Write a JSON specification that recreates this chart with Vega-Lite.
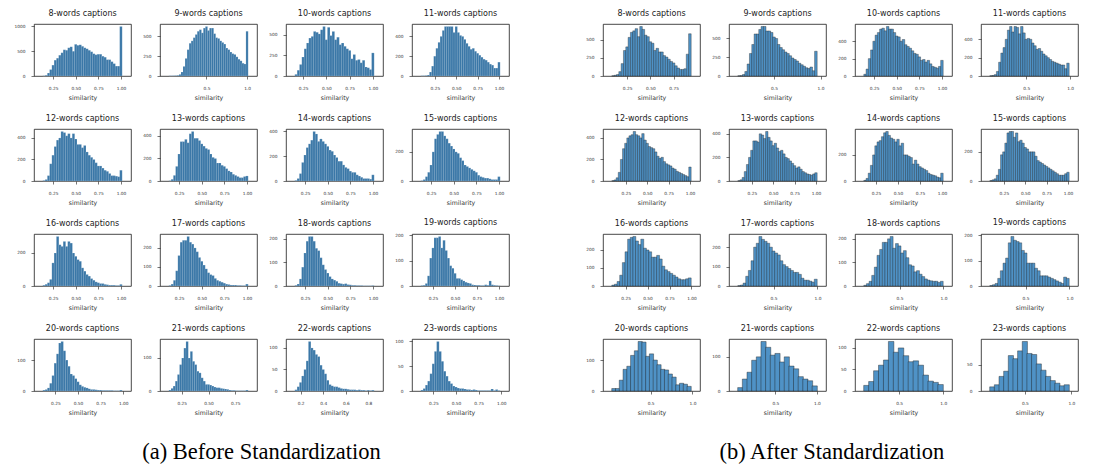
{
"$schema": "https://vega.github.io/schema/vega-lite/v6.json",
"background": "white",
"padding": {"left": 13, "top": 9, "right": 5, "bottom": 3},
"datasets": {
"a8": [{"x":0.15,"n":5},{"x":0.175,"n":15},{"x":0.2,"n":60},{"x":0.225,"n":130},{"x":0.25,"n":220},{"x":0.275,"n":320},{"x":0.3,"n":360},{"x":0.325,"n":420},{"x":0.35,"n":470},{"x":0.375,"n":530},{"x":0.4,"n":520},{"x":0.425,"n":570},{"x":0.45,"n":590},{"x":0.475,"n":500},{"x":0.5,"n":640},{"x":0.525,"n":620},{"x":0.55,"n":630},{"x":0.575,"n":600},{"x":0.6,"n":570},{"x":0.625,"n":550},{"x":0.65,"n":520},{"x":0.675,"n":490},{"x":0.7,"n":450},{"x":0.725,"n":430},{"x":0.75,"n":440},{"x":0.775,"n":440},{"x":0.8,"n":400},{"x":0.825,"n":380},{"x":0.85,"n":330},{"x":0.875,"n":330},{"x":0.9,"n":290},{"x":0.925,"n":250},{"x":0.95,"n":200},{"x":0.975,"n":200},{"x":1.0,"n":1000}],
"a9": [{"x":0.05,"n":3},{"x":0.075,"n":3},{"x":0.1,"n":4},{"x":0.125,"n":5},{"x":0.15,"n":8},{"x":0.175,"n":20},{"x":0.2,"n":50},{"x":0.225,"n":120},{"x":0.25,"n":220},{"x":0.275,"n":330},{"x":0.3,"n":410},{"x":0.325,"n":440},{"x":0.35,"n":480},{"x":0.375,"n":520},{"x":0.4,"n":560},{"x":0.425,"n":580},{"x":0.45,"n":540},{"x":0.475,"n":600},{"x":0.5,"n":620},{"x":0.525,"n":570},{"x":0.55,"n":600},{"x":0.575,"n":600},{"x":0.6,"n":530},{"x":0.625,"n":480},{"x":0.65,"n":470},{"x":0.675,"n":440},{"x":0.7,"n":420},{"x":0.725,"n":400},{"x":0.75,"n":350},{"x":0.775,"n":330},{"x":0.8,"n":300},{"x":0.825,"n":280},{"x":0.85,"n":270},{"x":0.875,"n":240},{"x":0.9,"n":210},{"x":0.925,"n":190},{"x":0.95,"n":160},{"x":0.975,"n":150},{"x":1.0,"n":560}],
"a10": [{"x":0.175,"n":20},{"x":0.2,"n":70},{"x":0.225,"n":140},{"x":0.25,"n":230},{"x":0.275,"n":330},{"x":0.3,"n":400},{"x":0.325,"n":460},{"x":0.35,"n":480},{"x":0.375,"n":540},{"x":0.4,"n":530},{"x":0.425,"n":510},{"x":0.45,"n":560},{"x":0.475,"n":600},{"x":0.5,"n":440},{"x":0.525,"n":590},{"x":0.55,"n":490},{"x":0.575,"n":540},{"x":0.6,"n":440},{"x":0.625,"n":470},{"x":0.65,"n":380},{"x":0.675,"n":400},{"x":0.7,"n":360},{"x":0.725,"n":330},{"x":0.75,"n":310},{"x":0.775,"n":210},{"x":0.8,"n":260},{"x":0.825,"n":190},{"x":0.85,"n":200},{"x":0.875,"n":160},{"x":0.9,"n":190},{"x":0.925,"n":110},{"x":0.95,"n":100},{"x":0.975,"n":80},{"x":1.0,"n":280}],
"a11": [{"x":0.1,"n":3},{"x":0.125,"n":3},{"x":0.15,"n":5},{"x":0.175,"n":10},{"x":0.2,"n":40},{"x":0.225,"n":100},{"x":0.25,"n":200},{"x":0.275,"n":280},{"x":0.3,"n":340},{"x":0.325,"n":400},{"x":0.35,"n":460},{"x":0.375,"n":500},{"x":0.4,"n":500},{"x":0.425,"n":500},{"x":0.45,"n":500},{"x":0.475,"n":440},{"x":0.5,"n":500},{"x":0.525,"n":440},{"x":0.55,"n":410},{"x":0.575,"n":400},{"x":0.6,"n":370},{"x":0.625,"n":330},{"x":0.65,"n":300},{"x":0.675,"n":270},{"x":0.7,"n":280},{"x":0.725,"n":250},{"x":0.75,"n":230},{"x":0.775,"n":210},{"x":0.8,"n":190},{"x":0.825,"n":170},{"x":0.85,"n":160},{"x":0.875,"n":140},{"x":0.9,"n":120},{"x":0.925,"n":110},{"x":0.95,"n":80},{"x":0.975,"n":80},{"x":1.0,"n":140}],
"a12": [{"x":0.15,"n":5},{"x":0.175,"n":15},{"x":0.2,"n":50},{"x":0.225,"n":160},{"x":0.25,"n":240},{"x":0.275,"n":320},{"x":0.3,"n":380},{"x":0.325,"n":400},{"x":0.35,"n":460},{"x":0.375,"n":450},{"x":0.4,"n":420},{"x":0.425,"n":440},{"x":0.45,"n":400},{"x":0.475,"n":440},{"x":0.5,"n":390},{"x":0.525,"n":340},{"x":0.55,"n":340},{"x":0.575,"n":310},{"x":0.6,"n":330},{"x":0.625,"n":270},{"x":0.65,"n":240},{"x":0.675,"n":220},{"x":0.7,"n":200},{"x":0.725,"n":170},{"x":0.75,"n":140},{"x":0.775,"n":140},{"x":0.8,"n":120},{"x":0.825,"n":100},{"x":0.85,"n":90},{"x":0.875,"n":70},{"x":0.9,"n":50},{"x":0.925,"n":50},{"x":0.95,"n":45},{"x":0.975,"n":40},{"x":1.0,"n":100}],
"a13": [{"x":0.15,"n":3},{"x":0.175,"n":15},{"x":0.2,"n":50},{"x":0.225,"n":130},{"x":0.25,"n":240},{"x":0.275,"n":350},{"x":0.3,"n":350},{"x":0.325,"n":370},{"x":0.35,"n":340},{"x":0.375,"n":420},{"x":0.4,"n":440},{"x":0.425,"n":380},{"x":0.45,"n":380},{"x":0.475,"n":360},{"x":0.5,"n":330},{"x":0.525,"n":310},{"x":0.55,"n":290},{"x":0.575,"n":280},{"x":0.6,"n":240},{"x":0.625,"n":210},{"x":0.65,"n":200},{"x":0.675,"n":160},{"x":0.7,"n":160},{"x":0.725,"n":140},{"x":0.75,"n":130},{"x":0.775,"n":110},{"x":0.8,"n":90},{"x":0.825,"n":80},{"x":0.85,"n":60},{"x":0.875,"n":50},{"x":0.9,"n":40},{"x":0.925,"n":30},{"x":0.95,"n":30},{"x":0.975,"n":40},{"x":1.0,"n":45}],
"a14": [{"x":0.15,"n":5},{"x":0.175,"n":20},{"x":0.2,"n":60},{"x":0.225,"n":150},{"x":0.25,"n":210},{"x":0.275,"n":270},{"x":0.3,"n":300},{"x":0.325,"n":330},{"x":0.35,"n":400},{"x":0.375,"n":380},{"x":0.4,"n":320},{"x":0.425,"n":340},{"x":0.45,"n":320},{"x":0.475,"n":300},{"x":0.5,"n":280},{"x":0.525,"n":250},{"x":0.55,"n":240},{"x":0.575,"n":210},{"x":0.6,"n":190},{"x":0.625,"n":160},{"x":0.65,"n":160},{"x":0.675,"n":130},{"x":0.7,"n":110},{"x":0.725,"n":100},{"x":0.75,"n":80},{"x":0.775,"n":70},{"x":0.8,"n":70},{"x":0.825,"n":50},{"x":0.85,"n":40},{"x":0.875,"n":30},{"x":0.9,"n":20},{"x":0.925,"n":20},{"x":0.95,"n":20},{"x":0.975,"n":15},{"x":1.0,"n":50}],
"a15": [{"x":0.15,"n":3},{"x":0.175,"n":10},{"x":0.2,"n":30},{"x":0.225,"n":60},{"x":0.25,"n":110},{"x":0.275,"n":200},{"x":0.3,"n":290},{"x":0.325,"n":320},{"x":0.35,"n":340},{"x":0.375,"n":340},{"x":0.4,"n":310},{"x":0.425,"n":290},{"x":0.45,"n":260},{"x":0.475,"n":240},{"x":0.5,"n":220},{"x":0.525,"n":200},{"x":0.55,"n":190},{"x":0.575,"n":160},{"x":0.6,"n":140},{"x":0.625,"n":110},{"x":0.65,"n":100},{"x":0.675,"n":90},{"x":0.7,"n":80},{"x":0.725,"n":70},{"x":0.75,"n":60},{"x":0.775,"n":40},{"x":0.8,"n":30},{"x":0.825,"n":25},{"x":0.85,"n":20},{"x":0.875,"n":20},{"x":0.9,"n":15},{"x":0.925,"n":10},{"x":0.95,"n":10},{"x":0.975,"n":10},{"x":1.0,"n":30}],
"a16": [{"x":0.15,"n":5},{"x":0.175,"n":10},{"x":0.2,"n":20},{"x":0.225,"n":40},{"x":0.25,"n":140},{"x":0.275,"n":200},{"x":0.3,"n":300},{"x":0.325,"n":250},{"x":0.35,"n":240},{"x":0.375,"n":270},{"x":0.4,"n":240},{"x":0.425,"n":270},{"x":0.45,"n":260},{"x":0.475,"n":200},{"x":0.5,"n":180},{"x":0.525,"n":160},{"x":0.55,"n":150},{"x":0.575,"n":110},{"x":0.6,"n":90},{"x":0.625,"n":70},{"x":0.65,"n":60},{"x":0.675,"n":45},{"x":0.7,"n":35},{"x":0.725,"n":25},{"x":0.75,"n":20},{"x":0.775,"n":15},{"x":0.8,"n":15},{"x":0.825,"n":10},{"x":0.85,"n":8},{"x":0.875,"n":5},{"x":0.9,"n":5},{"x":0.925,"n":5},{"x":0.95,"n":3},{"x":0.975,"n":3},{"x":1.0,"n":10}],
"a17": [{"x":0.15,"n":3},{"x":0.175,"n":10},{"x":0.2,"n":30},{"x":0.225,"n":80},{"x":0.25,"n":160},{"x":0.275,"n":230},{"x":0.3,"n":240},{"x":0.325,"n":240},{"x":0.35,"n":260},{"x":0.375,"n":230},{"x":0.4,"n":220},{"x":0.425,"n":200},{"x":0.45,"n":180},{"x":0.475,"n":150},{"x":0.5,"n":130},{"x":0.525,"n":110},{"x":0.55,"n":90},{"x":0.575,"n":70},{"x":0.6,"n":60},{"x":0.625,"n":55},{"x":0.65,"n":40},{"x":0.675,"n":30},{"x":0.7,"n":25},{"x":0.725,"n":20},{"x":0.75,"n":15},{"x":0.775,"n":10},{"x":0.8,"n":8},{"x":0.825,"n":5},{"x":0.85,"n":5},{"x":0.875,"n":5},{"x":0.9,"n":3},{"x":0.925,"n":3},{"x":0.95,"n":2},{"x":0.975,"n":2},{"x":1.0,"n":10}],
"a18": [{"x":0.15,"n":3},{"x":0.175,"n":8},{"x":0.2,"n":30},{"x":0.225,"n":80},{"x":0.25,"n":140},{"x":0.275,"n":190},{"x":0.3,"n":210},{"x":0.325,"n":210},{"x":0.35,"n":190},{"x":0.375,"n":160},{"x":0.4,"n":150},{"x":0.425,"n":120},{"x":0.45,"n":90},{"x":0.475,"n":70},{"x":0.5,"n":55},{"x":0.525,"n":40},{"x":0.55,"n":30},{"x":0.575,"n":25},{"x":0.6,"n":20},{"x":0.625,"n":12},{"x":0.65,"n":10},{"x":0.675,"n":8},{"x":0.7,"n":10},{"x":0.725,"n":6},{"x":0.75,"n":5},{"x":0.775,"n":3},{"x":0.8,"n":3},{"x":0.825,"n":2},{"x":0.85,"n":2},{"x":0.875,"n":2},{"x":0.9,"n":1},{"x":0.925,"n":1},{"x":0.95,"n":1},{"x":0.975,"n":1},{"x":1.0,"n":2}],
"a19": [{"x":0.125,"n":2},{"x":0.15,"n":3},{"x":0.175,"n":10},{"x":0.2,"n":40},{"x":0.225,"n":110},{"x":0.25,"n":150},{"x":0.275,"n":190},{"x":0.3,"n":190},{"x":0.325,"n":195},{"x":0.35,"n":150},{"x":0.375,"n":180},{"x":0.4,"n":140},{"x":0.425,"n":110},{"x":0.45,"n":80},{"x":0.475,"n":70},{"x":0.5,"n":50},{"x":0.525,"n":30},{"x":0.55,"n":30},{"x":0.575,"n":25},{"x":0.6,"n":20},{"x":0.625,"n":15},{"x":0.65,"n":12},{"x":0.675,"n":10},{"x":0.7,"n":5},{"x":0.725,"n":4},{"x":0.75,"n":3},{"x":0.775,"n":3},{"x":0.8,"n":2},{"x":0.825,"n":2},{"x":0.85,"n":5},{"x":0.875,"n":3},{"x":0.9,"n":20},{"x":0.925,"n":5},{"x":0.95,"n":3},{"x":0.975,"n":2},{"x":1.0,"n":1}],
"a20": [{"x":0.125,"n":3},{"x":0.15,"n":5},{"x":0.175,"n":10},{"x":0.2,"n":25},{"x":0.225,"n":50},{"x":0.25,"n":90},{"x":0.275,"n":120},{"x":0.3,"n":155},{"x":0.325,"n":160},{"x":0.35,"n":130},{"x":0.375,"n":100},{"x":0.4,"n":80},{"x":0.425,"n":55},{"x":0.45,"n":50},{"x":0.475,"n":40},{"x":0.5,"n":30},{"x":0.525,"n":20},{"x":0.55,"n":15},{"x":0.575,"n":12},{"x":0.6,"n":10},{"x":0.625,"n":7},{"x":0.65,"n":5},{"x":0.675,"n":5},{"x":0.7,"n":4},{"x":0.725,"n":3},{"x":0.75,"n":3},{"x":0.775,"n":2},{"x":0.8,"n":2},{"x":0.825,"n":2},{"x":0.85,"n":2},{"x":0.875,"n":2},{"x":0.9,"n":1},{"x":0.925,"n":1},{"x":0.95,"n":1},{"x":0.975,"n":3}],
"a21": [{"x":0.14,"n":3},{"x":0.16,"n":8},{"x":0.18,"n":15},{"x":0.2,"n":30},{"x":0.22,"n":50},{"x":0.24,"n":80},{"x":0.26,"n":100},{"x":0.28,"n":130},{"x":0.3,"n":150},{"x":0.32,"n":100},{"x":0.34,"n":120},{"x":0.36,"n":90},{"x":0.38,"n":80},{"x":0.4,"n":60},{"x":0.42,"n":55},{"x":0.44,"n":40},{"x":0.46,"n":30},{"x":0.48,"n":20},{"x":0.5,"n":20},{"x":0.52,"n":18},{"x":0.54,"n":15},{"x":0.56,"n":12},{"x":0.58,"n":10},{"x":0.6,"n":10},{"x":0.62,"n":8},{"x":0.64,"n":7},{"x":0.66,"n":6},{"x":0.68,"n":5},{"x":0.7,"n":3},{"x":0.72,"n":2},{"x":0.74,"n":2},{"x":0.76,"n":1},{"x":0.78,"n":1},{"x":0.8,"n":1},{"x":0.82,"n":1},{"x":0.84,"n":1},{"x":0.86,"n":3}],
"a22": [{"x":0.16,"n":3},{"x":0.18,"n":10},{"x":0.2,"n":20},{"x":0.22,"n":35},{"x":0.24,"n":50},{"x":0.26,"n":70},{"x":0.28,"n":115},{"x":0.3,"n":100},{"x":0.32,"n":95},{"x":0.34,"n":85},{"x":0.36,"n":80},{"x":0.38,"n":60},{"x":0.4,"n":50},{"x":0.42,"n":40},{"x":0.44,"n":25},{"x":0.46,"n":15},{"x":0.48,"n":12},{"x":0.5,"n":10},{"x":0.52,"n":10},{"x":0.54,"n":8},{"x":0.56,"n":6},{"x":0.58,"n":5},{"x":0.6,"n":5},{"x":0.62,"n":4},{"x":0.64,"n":3},{"x":0.66,"n":3},{"x":0.68,"n":3},{"x":0.7,"n":2},{"x":0.72,"n":3},{"x":0.74,"n":2},{"x":0.76,"n":2},{"x":0.78,"n":1},{"x":0.8,"n":2},{"x":0.82,"n":1},{"x":0.84,"n":2}],
"a23": [{"x":0.125,"n":2},{"x":0.15,"n":5},{"x":0.175,"n":12},{"x":0.2,"n":20},{"x":0.225,"n":35},{"x":0.25,"n":55},{"x":0.275,"n":80},{"x":0.3,"n":100},{"x":0.325,"n":80},{"x":0.35,"n":60},{"x":0.375,"n":40},{"x":0.4,"n":30},{"x":0.425,"n":20},{"x":0.45,"n":15},{"x":0.475,"n":10},{"x":0.5,"n":8},{"x":0.525,"n":6},{"x":0.55,"n":5},{"x":0.575,"n":5},{"x":0.6,"n":4},{"x":0.625,"n":3},{"x":0.65,"n":3},{"x":0.675,"n":2},{"x":0.7,"n":3},{"x":0.725,"n":2},{"x":0.75,"n":1},{"x":0.775,"n":1},{"x":0.8,"n":1},{"x":0.825,"n":1},{"x":0.85,"n":1},{"x":0.875,"n":1},{"x":0.9,"n":4},{"x":0.925,"n":1},{"x":0.95,"n":3},{"x":0.975,"n":1}],
"b8": [{"x":0.1,"n":3},{"x":0.125,"n":10},{"x":0.15,"n":20},{"x":0.175,"n":60},{"x":0.2,"n":170},{"x":0.225,"n":350},{"x":0.25,"n":400},{"x":0.275,"n":530},{"x":0.3,"n":600},{"x":0.325,"n":620},{"x":0.35,"n":650},{"x":0.375,"n":540},{"x":0.4,"n":680},{"x":0.425,"n":640},{"x":0.45,"n":560},{"x":0.475,"n":540},{"x":0.5,"n":470},{"x":0.525,"n":450},{"x":0.55,"n":350},{"x":0.575,"n":380},{"x":0.6,"n":330},{"x":0.625,"n":330},{"x":0.65,"n":280},{"x":0.675,"n":260},{"x":0.7,"n":230},{"x":0.725,"n":200},{"x":0.75,"n":180},{"x":0.775,"n":140},{"x":0.8,"n":110},{"x":0.825,"n":90},{"x":0.85,"n":90},{"x":0.875,"n":100},{"x":0.9,"n":300},{"x":0.925,"n":580}],
"b9": [{"x":0.125,"n":3},{"x":0.15,"n":5},{"x":0.175,"n":20},{"x":0.2,"n":60},{"x":0.225,"n":160},{"x":0.25,"n":300},{"x":0.275,"n":420},{"x":0.3,"n":560},{"x":0.325,"n":560},{"x":0.35,"n":620},{"x":0.375,"n":660},{"x":0.4,"n":660},{"x":0.425,"n":600},{"x":0.45,"n":600},{"x":0.475,"n":580},{"x":0.5,"n":520},{"x":0.525,"n":500},{"x":0.55,"n":420},{"x":0.575,"n":380},{"x":0.6,"n":350},{"x":0.625,"n":320},{"x":0.65,"n":300},{"x":0.675,"n":270},{"x":0.7,"n":240},{"x":0.725,"n":220},{"x":0.75,"n":200},{"x":0.775,"n":170},{"x":0.8,"n":150},{"x":0.825,"n":130},{"x":0.85,"n":110},{"x":0.875,"n":100},{"x":0.9,"n":120},{"x":0.925,"n":70},{"x":0.95,"n":330}],
"b10": [{"x":0.15,"n":20},{"x":0.175,"n":80},{"x":0.2,"n":200},{"x":0.225,"n":300},{"x":0.25,"n":400},{"x":0.275,"n":470},{"x":0.3,"n":500},{"x":0.325,"n":540},{"x":0.35,"n":550},{"x":0.375,"n":520},{"x":0.4,"n":570},{"x":0.425,"n":540},{"x":0.45,"n":540},{"x":0.475,"n":500},{"x":0.5,"n":460},{"x":0.525,"n":450},{"x":0.55,"n":400},{"x":0.575,"n":420},{"x":0.6,"n":360},{"x":0.625,"n":340},{"x":0.65,"n":320},{"x":0.675,"n":290},{"x":0.7,"n":260},{"x":0.725,"n":250},{"x":0.75,"n":220},{"x":0.775,"n":180},{"x":0.8,"n":190},{"x":0.825,"n":160},{"x":0.85,"n":180},{"x":0.875,"n":140},{"x":0.9,"n":110},{"x":0.925,"n":100},{"x":0.95,"n":90},{"x":0.975,"n":110},{"x":1.0,"n":180}],
"b11": [{"x":0.1,"n":3},{"x":0.125,"n":5},{"x":0.15,"n":15},{"x":0.175,"n":50},{"x":0.2,"n":150},{"x":0.225,"n":250},{"x":0.25,"n":310},{"x":0.275,"n":400},{"x":0.3,"n":500},{"x":0.325,"n":540},{"x":0.35,"n":480},{"x":0.375,"n":540},{"x":0.4,"n":530},{"x":0.425,"n":460},{"x":0.45,"n":540},{"x":0.475,"n":470},{"x":0.5,"n":400},{"x":0.525,"n":410},{"x":0.55,"n":400},{"x":0.575,"n":360},{"x":0.6,"n":330},{"x":0.625,"n":290},{"x":0.65,"n":300},{"x":0.675,"n":270},{"x":0.7,"n":240},{"x":0.725,"n":220},{"x":0.75,"n":200},{"x":0.775,"n":180},{"x":0.8,"n":160},{"x":0.825,"n":150},{"x":0.85,"n":140},{"x":0.875,"n":130},{"x":0.9,"n":120},{"x":0.925,"n":120},{"x":0.95,"n":80},{"x":0.975,"n":140}],
"b12": [{"x":0.1,"n":3},{"x":0.125,"n":10},{"x":0.15,"n":30},{"x":0.175,"n":80},{"x":0.2,"n":200},{"x":0.225,"n":300},{"x":0.25,"n":350},{"x":0.275,"n":400},{"x":0.3,"n":420},{"x":0.325,"n":430},{"x":0.35,"n":460},{"x":0.375,"n":430},{"x":0.4,"n":420},{"x":0.425,"n":400},{"x":0.45,"n":440},{"x":0.475,"n":380},{"x":0.5,"n":350},{"x":0.525,"n":320},{"x":0.55,"n":310},{"x":0.575,"n":300},{"x":0.6,"n":270},{"x":0.625,"n":230},{"x":0.65,"n":210},{"x":0.675,"n":220},{"x":0.7,"n":180},{"x":0.725,"n":160},{"x":0.75,"n":150},{"x":0.775,"n":140},{"x":0.8,"n":120},{"x":0.825,"n":110},{"x":0.85,"n":90},{"x":0.875,"n":80},{"x":0.9,"n":70},{"x":0.925,"n":60},{"x":0.95,"n":50},{"x":0.975,"n":40},{"x":1.0,"n":130}],
"b13": [{"x":0.1,"n":3},{"x":0.125,"n":10},{"x":0.15,"n":30},{"x":0.175,"n":80},{"x":0.2,"n":140},{"x":0.225,"n":200},{"x":0.25,"n":260},{"x":0.275,"n":340},{"x":0.3,"n":340},{"x":0.325,"n":330},{"x":0.35,"n":400},{"x":0.375,"n":390},{"x":0.4,"n":360},{"x":0.425,"n":420},{"x":0.45,"n":370},{"x":0.475,"n":340},{"x":0.5,"n":300},{"x":0.525,"n":320},{"x":0.55,"n":280},{"x":0.575,"n":250},{"x":0.6,"n":260},{"x":0.625,"n":230},{"x":0.65,"n":200},{"x":0.675,"n":190},{"x":0.7,"n":170},{"x":0.725,"n":150},{"x":0.75,"n":130},{"x":0.775,"n":110},{"x":0.8,"n":120},{"x":0.825,"n":100},{"x":0.85,"n":80},{"x":0.875,"n":70},{"x":0.9,"n":60},{"x":0.925,"n":55},{"x":0.95,"n":50},{"x":0.975,"n":60},{"x":1.0,"n":70}],
"b14": [{"x":0.125,"n":5},{"x":0.15,"n":20},{"x":0.175,"n":60},{"x":0.2,"n":120},{"x":0.225,"n":200},{"x":0.25,"n":270},{"x":0.275,"n":300},{"x":0.3,"n":310},{"x":0.325,"n":340},{"x":0.35,"n":370},{"x":0.375,"n":380},{"x":0.4,"n":350},{"x":0.425,"n":330},{"x":0.45,"n":320},{"x":0.475,"n":300},{"x":0.5,"n":320},{"x":0.525,"n":270},{"x":0.55,"n":290},{"x":0.575,"n":200},{"x":0.6,"n":200},{"x":0.625,"n":190},{"x":0.65,"n":180},{"x":0.675,"n":130},{"x":0.7,"n":160},{"x":0.725,"n":130},{"x":0.75,"n":110},{"x":0.775,"n":100},{"x":0.8,"n":90},{"x":0.825,"n":80},{"x":0.85,"n":60},{"x":0.875,"n":50},{"x":0.9,"n":45},{"x":0.925,"n":40},{"x":0.95,"n":30},{"x":0.975,"n":25},{"x":1.0,"n":60}],
"b15": [{"x":0.1,"n":3},{"x":0.125,"n":8},{"x":0.15,"n":15},{"x":0.175,"n":40},{"x":0.2,"n":80},{"x":0.225,"n":180},{"x":0.25,"n":200},{"x":0.275,"n":260},{"x":0.3,"n":330},{"x":0.325,"n":340},{"x":0.35,"n":340},{"x":0.375,"n":300},{"x":0.4,"n":330},{"x":0.425,"n":270},{"x":0.45,"n":280},{"x":0.475,"n":260},{"x":0.5,"n":230},{"x":0.525,"n":220},{"x":0.55,"n":200},{"x":0.575,"n":200},{"x":0.6,"n":200},{"x":0.625,"n":170},{"x":0.65,"n":140},{"x":0.675,"n":130},{"x":0.7,"n":120},{"x":0.725,"n":110},{"x":0.75,"n":100},{"x":0.775,"n":90},{"x":0.8,"n":80},{"x":0.825,"n":70},{"x":0.85,"n":60},{"x":0.875,"n":50},{"x":0.9,"n":40},{"x":0.925,"n":40},{"x":0.95,"n":40},{"x":0.975,"n":50},{"x":1.0,"n":60}],
"b16": [{"x":0.11,"n":5},{"x":0.14,"n":10},{"x":0.17,"n":25},{"x":0.2,"n":60},{"x":0.23,"n":130},{"x":0.26,"n":190},{"x":0.29,"n":260},{"x":0.32,"n":270},{"x":0.35,"n":275},{"x":0.38,"n":250},{"x":0.41,"n":230},{"x":0.44,"n":260},{"x":0.47,"n":210},{"x":0.5,"n":200},{"x":0.53,"n":190},{"x":0.56,"n":160},{"x":0.59,"n":160},{"x":0.62,"n":170},{"x":0.65,"n":150},{"x":0.68,"n":110},{"x":0.71,"n":90},{"x":0.74,"n":80},{"x":0.77,"n":70},{"x":0.8,"n":60},{"x":0.83,"n":50},{"x":0.86,"n":40},{"x":0.89,"n":35},{"x":0.92,"n":35},{"x":0.95,"n":40},{"x":0.98,"n":45}],
"b17": [{"x":0.11,"n":2},{"x":0.14,"n":5},{"x":0.17,"n":15},{"x":0.2,"n":50},{"x":0.23,"n":80},{"x":0.26,"n":130},{"x":0.29,"n":200},{"x":0.32,"n":220},{"x":0.35,"n":255},{"x":0.38,"n":240},{"x":0.41,"n":230},{"x":0.44,"n":220},{"x":0.47,"n":200},{"x":0.5,"n":180},{"x":0.53,"n":170},{"x":0.56,"n":160},{"x":0.59,"n":130},{"x":0.62,"n":110},{"x":0.65,"n":100},{"x":0.68,"n":90},{"x":0.71,"n":80},{"x":0.74,"n":70},{"x":0.77,"n":70},{"x":0.8,"n":60},{"x":0.83,"n":40},{"x":0.86,"n":30},{"x":0.89,"n":30},{"x":0.92,"n":25},{"x":0.95,"n":20},{"x":0.98,"n":35}],
"b18": [{"x":0.11,"n":3},{"x":0.14,"n":10},{"x":0.17,"n":20},{"x":0.2,"n":45},{"x":0.23,"n":80},{"x":0.26,"n":130},{"x":0.29,"n":155},{"x":0.32,"n":185},{"x":0.35,"n":185},{"x":0.38,"n":200},{"x":0.41,"n":210},{"x":0.44,"n":160},{"x":0.47,"n":180},{"x":0.5,"n":170},{"x":0.53,"n":140},{"x":0.56,"n":150},{"x":0.59,"n":120},{"x":0.62,"n":90},{"x":0.65,"n":85},{"x":0.68,"n":60},{"x":0.71,"n":65},{"x":0.74,"n":50},{"x":0.77,"n":40},{"x":0.8,"n":30},{"x":0.83,"n":25},{"x":0.86,"n":22},{"x":0.89,"n":20},{"x":0.92,"n":20},{"x":0.95,"n":15},{"x":0.98,"n":20}],
"b19": [{"x":0.11,"n":2},{"x":0.14,"n":5},{"x":0.17,"n":10},{"x":0.2,"n":30},{"x":0.23,"n":60},{"x":0.26,"n":90},{"x":0.29,"n":110},{"x":0.32,"n":170},{"x":0.35,"n":195},{"x":0.38,"n":180},{"x":0.41,"n":175},{"x":0.44,"n":170},{"x":0.47,"n":140},{"x":0.5,"n":130},{"x":0.53,"n":90},{"x":0.56,"n":90},{"x":0.59,"n":90},{"x":0.62,"n":70},{"x":0.65,"n":60},{"x":0.68,"n":40},{"x":0.71,"n":40},{"x":0.74,"n":40},{"x":0.77,"n":35},{"x":0.8,"n":30},{"x":0.83,"n":25},{"x":0.86,"n":20},{"x":0.89,"n":15},{"x":0.92,"n":10},{"x":0.95,"n":35},{"x":0.98,"n":30}],
"b20": [{"x":0.06,"n":8},{"x":0.105,"n":8},{"x":0.15,"n":35},{"x":0.195,"n":70},{"x":0.24,"n":80},{"x":0.285,"n":115},{"x":0.33,"n":130},{"x":0.375,"n":160},{"x":0.42,"n":158},{"x":0.465,"n":112},{"x":0.51,"n":120},{"x":0.555,"n":100},{"x":0.6,"n":85},{"x":0.645,"n":70},{"x":0.69,"n":68},{"x":0.735,"n":55},{"x":0.78,"n":45},{"x":0.825,"n":20},{"x":0.87,"n":25},{"x":0.915,"n":22},{"x":0.96,"n":15}],
"b21": [{"x":0.078,"n":10},{"x":0.134,"n":35},{"x":0.19,"n":55},{"x":0.246,"n":90},{"x":0.302,"n":100},{"x":0.358,"n":145},{"x":0.414,"n":128},{"x":0.47,"n":105},{"x":0.526,"n":110},{"x":0.582,"n":85},{"x":0.638,"n":100},{"x":0.694,"n":73},{"x":0.75,"n":65},{"x":0.806,"n":42},{"x":0.862,"n":35},{"x":0.918,"n":30},{"x":0.974,"n":15}],
"b22": [{"x":0.13,"n":13},{"x":0.186,"n":22},{"x":0.242,"n":47},{"x":0.298,"n":60},{"x":0.354,"n":72},{"x":0.41,"n":115},{"x":0.466,"n":90},{"x":0.522,"n":100},{"x":0.578,"n":82},{"x":0.634,"n":68},{"x":0.69,"n":70},{"x":0.746,"n":60},{"x":0.802,"n":37},{"x":0.858,"n":23},{"x":0.914,"n":20},{"x":0.97,"n":15}],
"b23": [{"x":0.15,"n":8},{"x":0.2,"n":12},{"x":0.25,"n":28},{"x":0.3,"n":38},{"x":0.35,"n":68},{"x":0.4,"n":62},{"x":0.45,"n":77},{"x":0.5,"n":95},{"x":0.55,"n":72},{"x":0.6,"n":70},{"x":0.65,"n":52},{"x":0.7,"n":40},{"x":0.75,"n":28},{"x":0.8,"n":20},{"x":0.85,"n":15},{"x":0.9,"n":10},{"x":0.95,"n":12}]
},
"spacing": 75,
"hconcat": [
{
"title": {"text": "(a) Before Standardization", "orient": "bottom", "anchor": "middle", "font": "Liberation Serif", "fontSize": 22.5, "color": "#000000", "offset": 25},
"columns": 4, "spacing": {"row": 53, "column": 29}, "bounds": "flush",
"concat": [
{"data":{"name":"a8"},"title":"8-words captions","mark":{"type":"bar","orient":"vertical","width":2.52,"fill":"#3a77a7","stroke":"#ffffff","strokeWidth":0.15},"encoding":{"x":{"field":"x","type":"quantitative","title":"similarity","scale":{"domain":[0.094,1.056]},"axis":{"values":[0.25,0.5,0.75,1],"format":".2f"}},"y":{"field":"n","type":"quantitative","title":null,"scale":{"domain":[0,1050]},"axis":{"values":[0,500,1000]}}}},
{"data":{"name":"a9"},"title":"9-words captions","mark":{"type":"bar","orient":"vertical","width":2.26,"fill":"#3a77a7","stroke":"#ffffff","strokeWidth":0.15},"encoding":{"x":{"field":"x","type":"quantitative","title":"similarity","scale":{"domain":[-0.011,1.061]},"axis":{"values":[0.5,1],"format":".1f"}},"y":{"field":"n","type":"quantitative","title":null,"scale":{"domain":[0,651]},"axis":{"values":[0,250,500]}}}},
{"data":{"name":"a10"},"title":"10-words captions","mark":{"type":"bar","orient":"vertical","width":2.59,"fill":"#3a77a7","stroke":"#ffffff","strokeWidth":0.15},"encoding":{"x":{"field":"x","type":"quantitative","title":"similarity","scale":{"domain":[0.12,1.055]},"axis":{"values":[0.25,0.5,0.75,1],"format":".2f"}},"y":{"field":"n","type":"quantitative","title":null,"scale":{"domain":[0,630]},"axis":{"values":[0,250,500]}}}},
{"data":{"name":"a11"},"title":"11-words captions","mark":{"type":"bar","orient":"vertical","width":2.38,"fill":"#3a77a7","stroke":"#ffffff","strokeWidth":0.15},"encoding":{"x":{"field":"x","type":"quantitative","title":"similarity","scale":{"domain":[0.041,1.059]},"axis":{"values":[0.25,0.5,0.75,1],"format":".2f"}},"y":{"field":"n","type":"quantitative","title":null,"scale":{"domain":[0,525]},"axis":{"values":[0,200,400]}}}},
{"data":{"name":"a12"},"title":"12-words captions","mark":{"type":"bar","orient":"vertical","width":2.52,"fill":"#3a77a7","stroke":"#ffffff","strokeWidth":0.15},"encoding":{"x":{"field":"x","type":"quantitative","title":"similarity","scale":{"domain":[0.094,1.056]},"axis":{"values":[0.25,0.5,0.75,1],"format":".2f"}},"y":{"field":"n","type":"quantitative","title":null,"scale":{"domain":[0,483]},"axis":{"values":[0,200,400]}}}},
{"data":{"name":"a13"},"title":"13-words captions","mark":{"type":"bar","orient":"vertical","width":2.52,"fill":"#3a77a7","stroke":"#ffffff","strokeWidth":0.15},"encoding":{"x":{"field":"x","type":"quantitative","title":"similarity","scale":{"domain":[0.094,1.056]},"axis":{"values":[0.25,0.5,0.75,1],"format":".2f"}},"y":{"field":"n","type":"quantitative","title":null,"scale":{"domain":[0,462]},"axis":{"values":[0,200,400]}}}},
{"data":{"name":"a14"},"title":"14-words captions","mark":{"type":"bar","orient":"vertical","width":2.52,"fill":"#3a77a7","stroke":"#ffffff","strokeWidth":0.15},"encoding":{"x":{"field":"x","type":"quantitative","title":"similarity","scale":{"domain":[0.094,1.056]},"axis":{"values":[0.25,0.5,0.75,1],"format":".2f"}},"y":{"field":"n","type":"quantitative","title":null,"scale":{"domain":[0,420]},"axis":{"values":[0,200,400]}}}},
{"data":{"name":"a15"},"title":"15-words captions","mark":{"type":"bar","orient":"vertical","width":2.52,"fill":"#3a77a7","stroke":"#ffffff","strokeWidth":0.15},"encoding":{"x":{"field":"x","type":"quantitative","title":"similarity","scale":{"domain":[0.094,1.056]},"axis":{"values":[0.25,0.5,0.75,1],"format":".2f"}},"y":{"field":"n","type":"quantitative","title":null,"scale":{"domain":[0,357]},"axis":{"values":[0,200]}}}},
{"data":{"name":"a16"},"title":"16-words captions","mark":{"type":"bar","orient":"vertical","width":2.52,"fill":"#3a77a7","stroke":"#ffffff","strokeWidth":0.15},"encoding":{"x":{"field":"x","type":"quantitative","title":"similarity","scale":{"domain":[0.094,1.056]},"axis":{"values":[0.25,0.5,0.75,1],"format":".2f"}},"y":{"field":"n","type":"quantitative","title":null,"scale":{"domain":[0,315]},"axis":{"values":[0,200]}}}},
{"data":{"name":"a17"},"title":"17-words captions","mark":{"type":"bar","orient":"vertical","width":2.52,"fill":"#3a77a7","stroke":"#ffffff","strokeWidth":0.15},"encoding":{"x":{"field":"x","type":"quantitative","title":"similarity","scale":{"domain":[0.094,1.056]},"axis":{"values":[0.25,0.5,0.75,1],"format":".2f"}},"y":{"field":"n","type":"quantitative","title":null,"scale":{"domain":[0,273]},"axis":{"values":[0,100,200]}}}},
{"data":{"name":"a18"},"title":"18-words captions","mark":{"type":"bar","orient":"vertical","width":2.52,"fill":"#3a77a7","stroke":"#ffffff","strokeWidth":0.15},"encoding":{"x":{"field":"x","type":"quantitative","title":"similarity","scale":{"domain":[0.094,1.056]},"axis":{"values":[0.25,0.5,0.75,1],"format":".2f"}},"y":{"field":"n","type":"quantitative","title":null,"scale":{"domain":[0,220.5]},"axis":{"values":[0,100,200]}}}},
{"data":{"name":"a19"},"title":"19-words captions","mark":{"type":"bar","orient":"vertical","width":2.45,"fill":"#3a77a7","stroke":"#ffffff","strokeWidth":0.15},"encoding":{"x":{"field":"x","type":"quantitative","title":"similarity","scale":{"domain":[0.0675,1.0575]},"axis":{"values":[0.25,0.5,0.75,1],"format":".2f"}},"y":{"field":"n","type":"quantitative","title":null,"scale":{"domain":[0,204.75]},"axis":{"values":[0,100,200]}}}},
{"data":{"name":"a20"},"title":"20-words captions","mark":{"type":"bar","orient":"vertical","width":2.52,"fill":"#3a77a7","stroke":"#ffffff","strokeWidth":0.15},"encoding":{"x":{"field":"x","type":"quantitative","title":"similarity","scale":{"domain":[0.069,1.031]},"axis":{"values":[0.25,0.5,0.75,1],"format":".2f"}},"y":{"field":"n","type":"quantitative","title":null,"scale":{"domain":[0,168]},"axis":{"values":[0,100]}}}},
{"data":{"name":"a21"},"title":"21-words captions","mark":{"type":"bar","orient":"vertical","width":2.38,"fill":"#3a77a7","stroke":"#ffffff","strokeWidth":0.15},"encoding":{"x":{"field":"x","type":"quantitative","title":"similarity","scale":{"domain":[0.093,0.907]},"axis":{"values":[0.25,0.5,0.75],"format":".2f"}},"y":{"field":"n","type":"quantitative","title":null,"scale":{"domain":[0,157.5]},"axis":{"values":[0,100]}}}},
{"data":{"name":"a22"},"title":"22-words captions","mark":{"type":"bar","orient":"vertical","width":2.52,"fill":"#3a77a7","stroke":"#ffffff","strokeWidth":0.15},"encoding":{"x":{"field":"x","type":"quantitative","title":"similarity","scale":{"domain":[0.115,0.885]},"axis":{"values":[0.2,0.4,0.6,0.8],"format":".1f"}},"y":{"field":"n","type":"quantitative","title":null,"scale":{"domain":[0,120.75]},"axis":{"values":[0,50,100]}}}},
{"data":{"name":"a23"},"title":"23-words captions","mark":{"type":"bar","orient":"vertical","width":2.52,"fill":"#3a77a7","stroke":"#ffffff","strokeWidth":0.15},"encoding":{"x":{"field":"x","type":"quantitative","title":"similarity","scale":{"domain":[0.069,1.031]},"axis":{"values":[0.25,0.5,0.75,1],"format":".2f"}},"y":{"field":"n","type":"quantitative","title":null,"scale":{"domain":[0,105]},"axis":{"values":[0,50,100]}}}}
]
},
{
"title": {"text": "(b) After Standardization", "orient": "bottom", "anchor": "middle", "font": "Liberation Serif", "fontSize": 22.5, "color": "#000000", "offset": 25},
"columns": 4, "spacing": {"row": 53, "column": 29}, "bounds": "flush",
"concat": [
{"data":{"name":"b8"},"title":"8-words captions","mark":{"type":"bar","orient":"vertical","width":2.59,"fill":"#4f92c6","stroke":"#1c1c1c","strokeWidth":0.35},"encoding":{"x":{"field":"x","type":"quantitative","title":"similarity","scale":{"domain":[0.045,0.98]},"axis":{"values":[0.25,0.5,0.75],"format":".2f"}},"y":{"field":"n","type":"quantitative","title":null,"scale":{"domain":[0,714]},"axis":{"values":[0,250,500]}}}},
{"data":{"name":"b9"},"title":"9-words captions","mark":{"type":"bar","orient":"vertical","width":2.59,"fill":"#4f92c6","stroke":"#1c1c1c","strokeWidth":0.35},"encoding":{"x":{"field":"x","type":"quantitative","title":"similarity","scale":{"domain":[0.07,1.005]},"axis":{"values":[0.5,1],"format":".1f"}},"y":{"field":"n","type":"quantitative","title":null,"scale":{"domain":[0,693]},"axis":{"values":[0,250,500]}}}},
{"data":{"name":"b10"},"title":"10-words captions","mark":{"type":"bar","orient":"vertical","width":2.52,"fill":"#4f92c6","stroke":"#1c1c1c","strokeWidth":0.35},"encoding":{"x":{"field":"x","type":"quantitative","title":"similarity","scale":{"domain":[0.094,1.056]},"axis":{"values":[0.25,0.5,0.75,1],"format":".2f"}},"y":{"field":"n","type":"quantitative","title":null,"scale":{"domain":[0,598.5]},"axis":{"values":[0,200,400]}}}},
{"data":{"name":"b11"},"title":"11-words captions","mark":{"type":"bar","orient":"vertical","width":2.45,"fill":"#4f92c6","stroke":"#1c1c1c","strokeWidth":0.35},"encoding":{"x":{"field":"x","type":"quantitative","title":"similarity","scale":{"domain":[0.0425,1.0325]},"axis":{"values":[0.5,1],"format":".1f"}},"y":{"field":"n","type":"quantitative","title":null,"scale":{"domain":[0,567]},"axis":{"values":[0,200,400]}}}},
{"data":{"name":"b12"},"title":"12-words captions","mark":{"type":"bar","orient":"vertical","width":2.38,"fill":"#4f92c6","stroke":"#1c1c1c","strokeWidth":0.35},"encoding":{"x":{"field":"x","type":"quantitative","title":"similarity","scale":{"domain":[0.041,1.059]},"axis":{"values":[0.25,0.5,0.75,1],"format":".2f"}},"y":{"field":"n","type":"quantitative","title":null,"scale":{"domain":[0,483]},"axis":{"values":[0,200,400]}}}},
{"data":{"name":"b13"},"title":"13-words captions","mark":{"type":"bar","orient":"vertical","width":2.38,"fill":"#4f92c6","stroke":"#1c1c1c","strokeWidth":0.35},"encoding":{"x":{"field":"x","type":"quantitative","title":"similarity","scale":{"domain":[0.041,1.059]},"axis":{"values":[0.25,0.5,0.75,1],"format":".2f"}},"y":{"field":"n","type":"quantitative","title":null,"scale":{"domain":[0,441]},"axis":{"values":[0,200,400]}}}},
{"data":{"name":"b14"},"title":"14-words captions","mark":{"type":"bar","orient":"vertical","width":2.45,"fill":"#4f92c6","stroke":"#1c1c1c","strokeWidth":0.35},"encoding":{"x":{"field":"x","type":"quantitative","title":"similarity","scale":{"domain":[0.0675,1.0575]},"axis":{"values":[0.25,0.5,0.75,1],"format":".2f"}},"y":{"field":"n","type":"quantitative","title":null,"scale":{"domain":[0,399]},"axis":{"values":[0,200]}}}},
{"data":{"name":"b15"},"title":"15-words captions","mark":{"type":"bar","orient":"vertical","width":2.38,"fill":"#4f92c6","stroke":"#1c1c1c","strokeWidth":0.35},"encoding":{"x":{"field":"x","type":"quantitative","title":"similarity","scale":{"domain":[0.041,1.059]},"axis":{"values":[0.25,0.5,0.75,1],"format":".2f"}},"y":{"field":"n","type":"quantitative","title":null,"scale":{"domain":[0,357]},"axis":{"values":[0,200]}}}},
{"data":{"name":"b16"},"title":"16-words captions","mark":{"type":"bar","orient":"vertical","width":2.94,"fill":"#4f92c6","stroke":"#1c1c1c","strokeWidth":0.35},"encoding":{"x":{"field":"x","type":"quantitative","title":"similarity","scale":{"domain":[0.05,1.04]},"axis":{"values":[0.25,0.5,0.75,1],"format":".2f"}},"y":{"field":"n","type":"quantitative","title":null,"scale":{"domain":[0,288.75]},"axis":{"values":[0,100,200]}}}},
{"data":{"name":"b17"},"title":"17-words captions","mark":{"type":"bar","orient":"vertical","width":2.94,"fill":"#4f92c6","stroke":"#1c1c1c","strokeWidth":0.35},"encoding":{"x":{"field":"x","type":"quantitative","title":"similarity","scale":{"domain":[0.05,1.04]},"axis":{"values":[0.5,1],"format":".1f"}},"y":{"field":"n","type":"quantitative","title":null,"scale":{"domain":[0,267.75]},"axis":{"values":[0,100,200]}}}},
{"data":{"name":"b18"},"title":"18-words captions","mark":{"type":"bar","orient":"vertical","width":2.94,"fill":"#4f92c6","stroke":"#1c1c1c","strokeWidth":0.35},"encoding":{"x":{"field":"x","type":"quantitative","title":"similarity","scale":{"domain":[0.05,1.04]},"axis":{"values":[0.5,1],"format":".1f"}},"y":{"field":"n","type":"quantitative","title":null,"scale":{"domain":[0,220.5]},"axis":{"values":[0,100,200]}}}},
{"data":{"name":"b19"},"title":"19-words captions","mark":{"type":"bar","orient":"vertical","width":2.94,"fill":"#4f92c6","stroke":"#1c1c1c","strokeWidth":0.35},"encoding":{"x":{"field":"x","type":"quantitative","title":"similarity","scale":{"domain":[0.05,1.04]},"axis":{"values":[0.5,1],"format":".1f"}},"y":{"field":"n","type":"quantitative","title":null,"scale":{"domain":[0,204.75]},"axis":{"values":[0,100,200]}}}},
{"data":{"name":"b20"},"title":"20-words captions","mark":{"type":"bar","orient":"vertical","width":4.2,"fill":"#4f92c6","stroke":"#1c1c1c","strokeWidth":0.4},"encoding":{"x":{"field":"x","type":"quantitative","title":"similarity","scale":{"domain":[-0.0098,1.03]},"axis":{"values":[0.5,1],"format":".1f"}},"y":{"field":"n","type":"quantitative","title":null,"scale":{"domain":[0,168]},"axis":{"values":[0,100]}}}},
{"data":{"name":"b21"},"title":"21-words captions","mark":{"type":"bar","orient":"vertical","width":5.19,"fill":"#4f92c6","stroke":"#1c1c1c","strokeWidth":0.4},"encoding":{"x":{"field":"x","type":"quantitative","title":"similarity","scale":{"domain":[0.0024,1.0496]},"axis":{"values":[0.5,1],"format":".1f"}},"y":{"field":"n","type":"quantitative","title":null,"scale":{"domain":[0,152.25]},"axis":{"values":[0,100]}}}},
{"data":{"name":"b22"},"title":"22-words captions","mark":{"type":"bar","orient":"vertical","width":5.51,"fill":"#4f92c6","stroke":"#1c1c1c","strokeWidth":0.4},"encoding":{"x":{"field":"x","type":"quantitative","title":"similarity","scale":{"domain":[0.057,1.043]},"axis":{"values":[0.5,1],"format":".1f"}},"y":{"field":"n","type":"quantitative","title":null,"scale":{"domain":[0,120.75]},"axis":{"values":[0,50,100]}}}},
{"data":{"name":"b23"},"title":"23-words captions","mark":{"type":"bar","orient":"vertical","width":5.19,"fill":"#4f92c6","stroke":"#1c1c1c","strokeWidth":0.4},"encoding":{"x":{"field":"x","type":"quantitative","title":"similarity","scale":{"domain":[0.0825,1.0175]},"axis":{"values":[0.5,1],"format":".1f"}},"y":{"field":"n","type":"quantitative","title":null,"scale":{"domain":[0,99.75]},"axis":{"values":[0,50]}}}}
]
}
],
"config": {
"view": {"continuousWidth": 97, "continuousHeight": 52, "stroke": "#1a1a1a", "strokeWidth": 0.8},
"axis": {"grid": false, "domain": false, "tickColor": "#1a1a1a", "tickWidth": 0.6, "tickSize": 3, "labelFont": "DejaVu Sans", "labelFontSize": 4.3, "labelColor": "#333333", "labelFlush": false, "labelOverlap": false, "labelBound": false, "titleFont": "DejaVu Sans", "titleFontSize": 6.2, "titleFontWeight": "normal", "titleColor": "#333333"},
"axisX": {"labelPadding": 7, "titlePadding": 4},
"axisY": {"labelPadding": 6, "format": "d"},
"title": {"font": "DejaVu Sans", "fontSize": 8, "fontWeight": "normal", "color": "#222222", "offset": 6}
}
}
